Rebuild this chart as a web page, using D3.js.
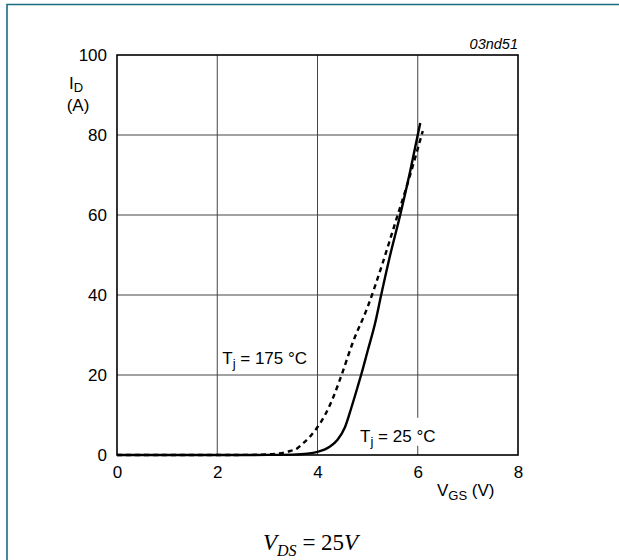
<!DOCTYPE html>
<html>
<head>
<meta charset="utf-8">
<script src="https://cdn.jsdelivr.net/npm/d3@7"></script>
<style>
  body { margin: 0; background: #fff; }
  svg { display: block; font-family: "Liberation Sans", Arial, sans-serif; }
</style>
</head>
<body>
<div id="chart"></div>
<script>
// drain current vs gate-source voltage
const xTicks = [0, 2, 4, 6, 8];
const yTicks = [0, 20, 40, 60, 80, 100];

const vgs25 = [0, 1, 2, 3, 3.5, 3.8, 4.0, 4.15, 4.25, 4.4, 4.55, 4.68, 4.8, 4.87, 5.0, 5.15, 5.27, 5.45, 5.65, 5.85, 6.05];
const id25  = [0, 0, 0, 0.02, 0.1, 0.35, 0.8, 1.4, 2.1, 3.8, 7.0, 12, 17, 20, 26, 33, 40, 50, 60, 71, 83];

const vgs175 = [0, 1, 2, 2.8, 3.2, 3.4, 3.6, 3.71, 3.85, 3.99, 4.15, 4.3, 4.48, 4.7, 5.0, 5.3, 5.55, 5.8, 6.1];
const id175  = [0, 0, 0, 0.05, 0.35, 0.8, 1.7, 2.9, 4.6, 6.8, 10, 14, 20, 28, 37, 48, 58, 68, 81];

const width = 619, height = 560;
const margin = { top: 55, right: 101, bottom: 105, left: 117 };
const chartWidth = width - margin.left - margin.right;
const chartHeight = height - margin.top - margin.bottom;

const svg = d3.select("#chart")
  .append("svg")
  .attr("width", width)
  .attr("height", height);

// page frame (teal corner)
svg.append("path")
  .attr("d", `M7,${height} V4.5 H${width}`)
  .attr("fill", "none")
  .attr("stroke", "#176d7e")
  .attr("stroke-width", 1.6);

const chart = svg.append("g")
  .attr("transform", `translate(${margin.left},${margin.top})`);

const xScale = d3.scaleLinear().domain([0, 8]).range([0, chartWidth]);
const yScale = d3.scaleLinear().domain([0, 100]).range([chartHeight, 0]);

// grid
chart.append("g")
  .selectAll("line")
  .data(xTicks.slice(1, -1))
  .join("line")
  .attr("x1", d => xScale(d)).attr("x2", d => xScale(d))
  .attr("y1", 0).attr("y2", chartHeight)
  .attr("stroke", "#444").attr("stroke-width", 1);

chart.append("g")
  .selectAll("line")
  .data(yTicks.slice(1, -1))
  .join("line")
  .attr("x1", 0).attr("x2", chartWidth)
  .attr("y1", d => yScale(d)).attr("y2", d => yScale(d))
  .attr("stroke", "#444").attr("stroke-width", 1);

// axes labels
const xAxis = d3.axisBottom(xScale).tickValues(xTicks).tickSize(0).tickPadding(11);
const yAxis = d3.axisLeft(yScale).tickValues(yTicks).tickSize(0).tickPadding(10);

chart.append("g")
  .attr("transform", `translate(0,${chartHeight})`)
  .call(xAxis)
  .call(g => g.select(".domain").remove())
  .selectAll("text")
  .attr("font-size", 17)
  .attr("font-family", "Liberation Sans, Arial, sans-serif")
  .attr("fill", "#000");

chart.append("g")
  .call(yAxis)
  .call(g => g.select(".domain").remove())
  .selectAll("text")
  .attr("font-size", 17)
  .attr("font-family", "Liberation Sans, Arial, sans-serif")
  .attr("fill", "#000");

// curves
const line = d3.line()
  .x(d => xScale(d[0]))
  .y(d => yScale(d[1]))
  .curve(d3.curveMonotoneX);

chart.append("path")
  .datum(d3.zip(vgs175, id175))
  .attr("d", line)
  .attr("fill", "none")
  .attr("stroke", "#000")
  .attr("stroke-width", 2.4)
  .attr("stroke-dasharray", "5,4");

chart.append("path")
  .datum(d3.zip(vgs25, id25))
  .attr("d", line)
  .attr("fill", "none")
  .attr("stroke", "#000")
  .attr("stroke-width", 2.4);

// frame
chart.append("rect")
  .attr("width", chartWidth)
  .attr("height", chartHeight)
  .attr("fill", "none")
  .attr("stroke", "#000")
  .attr("stroke-width", 1.6);

// curve labels
function tjLabel(x, y, value, box) {
  const g = chart.append("g");
  if (box) {
    g.append("rect")
      .attr("x", x - 4).attr("y", y - 24)
      .attr("width", 88).attr("height", 28)
      .attr("fill", "#fff");
  }
  const t = g.append("text")
    .attr("x", x).attr("y", y)
    .attr("font-size", 17)
    .attr("fill", "#000");
  t.append("tspan").text("T");
  t.append("tspan").attr("dy", 4).attr("font-size", 13).text("j");
  t.append("tspan").attr("dy", -4).text(` = ${value} °C`);
}
tjLabel(xScale(4.85), yScale(3.3), 25, true);
tjLabel(xScale(2.1), yScale(22.8), 175, false);

// axis titles
const yTitle = svg.append("text")
  .attr("x", 69).attr("y", 89)
  .attr("font-size", 17);
yTitle.append("tspan").text("I");
yTitle.append("tspan").attr("dy", 3).attr("font-size", 13).text("D");

svg.append("text")
  .attr("x", 78).attr("y", 111)
  .attr("text-anchor", "middle")
  .attr("font-size", 17)
  .text("(A)");

const xTitle = svg.append("text")
  .attr("x", 437).attr("y", 496)
  .attr("font-size", 17);
xTitle.append("tspan").text("V");
xTitle.append("tspan").attr("dy", 4).attr("font-size", 13).text("GS");
xTitle.append("tspan").attr("dy", -4).text(" (V)");

svg.append("text")
  .attr("x", margin.left + chartWidth).attr("y", 49)
  .attr("text-anchor", "end")
  .attr("font-size", 14.5)
  .attr("font-style", "italic")
  .text("03nd51");

// condition note
const note = svg.append("text")
  .attr("x", 263).attr("y", 550)
  .attr("font-family", "Liberation Serif, Times New Roman, serif")
  .attr("font-size", 23);
note.append("tspan").attr("font-style", "italic").text("V");
note.append("tspan").attr("dy", 6).attr("font-size", 16).attr("font-style", "italic").text("DS");
note.append("tspan").attr("dy", -6).text(" = 25");
note.append("tspan").attr("font-style", "italic").text("V");
</script>
</body>
</html>
